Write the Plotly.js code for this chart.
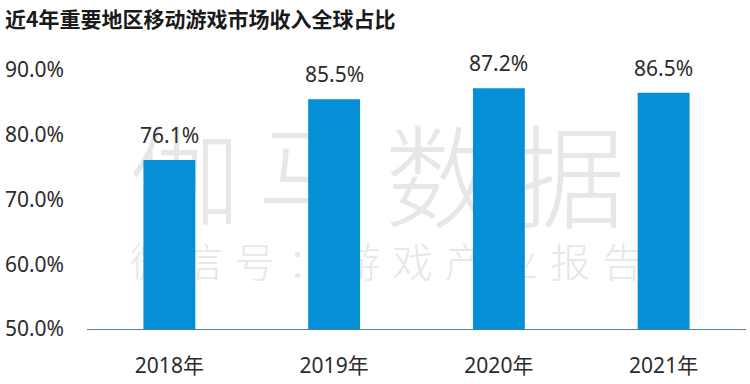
<!DOCTYPE html>
<html>
<head>
<meta charset="utf-8">
<script src="https://cdn.plot.ly/plotly-3.0.1.min.js"></script>
<style>
  html, body { margin: 0; padding: 0; background: #ffffff; }
  #wrap { position: relative; width: 750px; height: 384px; overflow: hidden; }
  #wm { position: absolute; left: 0; top: 0; width: 750px; height: 384px; z-index: 0; pointer-events: none;
        font-family: "Noto Sans CJK SC", sans-serif; color: #e7e7e7; font-weight: 300; }
  #wm span { position: absolute; display: block; text-align: center; line-height: 1; }
  #chart { position: relative; z-index: 1; width: 750px; height: 384px; }
</style>
</head>
<body>
<div id="wrap">
  <div id="wm"></div>
  <div id="chart"></div>
</div>
<script>
// ---- data ----
var years = ["2018年", "2019年", "2020年", "2021年"];
var shares = [76.1, 85.5, 87.2, 86.5];
var labels = ["76.1%", "85.5%", "87.2%", "86.5%"];
var yTickVals = [50, 60, 70, 80, 90];
var yTickText = ["50.0%", "60.0%", "70.0%", "80.0%", "90.0%"];
var chartTitle = "近4年重要地区移动游戏市场收入全球占比";
var watermarkBig = ["伽", "马", "数", "据"];
var watermarkSmall = ["微", "信", "号", "：", "游", "戏", "产", "业", "报", "告"];

// ---- watermark (behind the bars) ----
var wm = document.getElementById("wm");
watermarkBig.forEach(function (ch, i) {
  var s = document.createElement("span");
  s.textContent = ch;
  var size = 112;
  s.style.fontSize = size + "px";
  s.style.width = size + "px";
  s.style.left = (185 + i * 128 - size / 2) + "px";
  s.style.top = (175 - size / 2 - 4) + "px";
  wm.appendChild(s);
});
watermarkSmall.forEach(function (ch, i) {
  var s = document.createElement("span");
  s.textContent = ch;
  var size = 40;
  s.style.fontSize = size + "px";
  s.style.width = size + "px";
  s.style.left = (150 + i * 52.5 - size / 2) + "px";
  s.style.top = (262 - size / 2 - 2) + "px";
  wm.appendChild(s);
});

// ---- chart ----
var fontFam = "Noto Sans, Noto Sans CJK SC, sans-serif";
var trace = {
  type: "bar",
  x: years,
  y: shares,
  marker: { color: "#058fd6" },
  hoverinfo: "none"
};

var annotations = years.map(function (yr, i) {
  return {
    x: yr, y: shares[i], xref: "x", yref: "y",
    text: labels[i], showarrow: false,
    yanchor: "bottom", yshift: 9,
    font: { family: fontFam, size: 21, color: "#2b2b2b" }
  };
});

var layout = {
  width: 750, height: 384,
  margin: { l: 87, r: 4, t: 70, b: 55 },
  paper_bgcolor: "rgba(0,0,0,0)",
  plot_bgcolor: "rgba(0,0,0,0)",
  showlegend: false,
  bargap: 0.685,
  title: {
    text: "<b>" + chartTitle + "</b>",
    x: 5 / 750, xref: "container", xanchor: "left",
    y: 1 - 20 / 384, yref: "container", yanchor: "middle",
    font: { family: "Noto Sans CJK SC, sans-serif", size: 21, color: "#1a1a1a" }
  },
  xaxis: {
    type: "category",
    showline: true, linecolor: "#4f7fa3", linewidth: 1,
    showgrid: false, zeroline: false,
    ticks: "", ticklabelstandoff: 18,
    tickfont: { family: fontFam, size: 21, color: "#2b2b2b" }
  },
  yaxis: {
    range: [50, 90],
    tickvals: yTickVals, ticktext: yTickText,
    showline: false, showgrid: false, zeroline: false,
    ticks: "", ticklabelstandoff: 22,
    tickfont: { family: fontFam, size: 21, color: "#2b2b2b" }
  },
  annotations: annotations
};

Plotly.newPlot("chart", [trace], layout, { displayModeBar: false, staticPlot: true });
</script>
</body>
</html>
